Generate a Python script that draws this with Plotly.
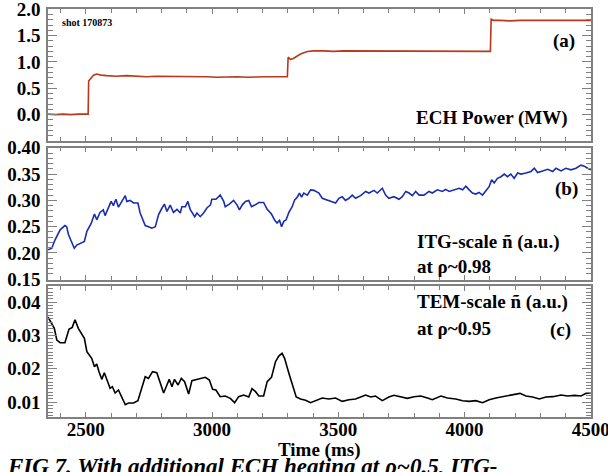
import plotly.graph_objects as go

# ---------------- data ----------------
ech_time = [2350, 2380, 2410, 2440, 2470, 2500, 2509, 2511, 2520, 2530,
            2543, 2560, 2583, 2620, 2660, 2700, 2740, 2780, 2820, 2860,
            2900, 2940, 2980, 3020, 3060, 3100, 3140, 3180, 3220, 3260,
            3298, 3301, 3310, 3320, 3337, 3350, 3377, 3403, 3440, 3480,
            3520, 3560, 3600, 3640, 3680, 3720, 3760, 3800, 3840, 3880,
            3920, 3960, 4000, 4040, 4080, 4102, 4105, 4115, 4140, 4180,
            4220, 4260, 4300, 4340, 4380, 4420, 4460, 4500]
ech_power = [0.01, 0.00, 0.01, 0.00, 0.01, 0.00, 0.01, 0.64, 0.70, 0.75,
             0.77, 0.75, 0.74, 0.73, 0.74, 0.73, 0.72, 0.73, 0.73, 0.72,
             0.73, 0.72, 0.72, 0.71, 0.72, 0.72, 0.71, 0.72, 0.72, 0.72,
             0.72, 1.09, 1.05, 1.06, 1.11, 1.15, 1.20, 1.21, 1.21, 1.20,
             1.21, 1.21, 1.20, 1.21, 1.21, 1.20, 1.20, 1.21, 1.20, 1.20,
             1.21, 1.20, 1.20, 1.21, 1.21, 1.20, 1.81, 1.79, 1.79, 1.78,
             1.79, 1.79, 1.79, 1.78, 1.79, 1.79, 1.79, 1.79]

itg_time = [2350, 2365, 2378, 2398, 2417, 2424, 2431, 2444, 2454, 2464,
            2484, 2494, 2504, 2521, 2534, 2543, 2556, 2569, 2576, 2589,
            2600, 2609, 2619, 2629, 2642, 2656, 2662, 2675, 2689, 2706,
            2715, 2728, 2735, 2748, 2761, 2775, 2788, 2801, 2811, 2821,
            2834, 2847, 2861, 2874, 2880, 2894, 2904, 2913, 2931, 2940,
            2953, 2966, 2980, 2993, 2999, 3015, 3032, 3046, 3052, 3068,
            3085, 3099, 3108, 3119, 3132, 3145, 3156, 3169, 3185, 3204,
            3218, 3235, 3248, 3257, 3267, 3275, 3284, 3293, 3304, 3317,
            3327, 3337, 3346, 3354, 3363, 3377, 3390, 3403, 3416, 3423,
            3436, 3456, 3469, 3489, 3502, 3515, 3528, 3542, 3555, 3568,
            3588, 3608, 3621, 3641, 3654, 3674, 3687, 3700, 3720, 3740,
            3753, 3767, 3780, 3793, 3806, 3820, 3839, 3859, 3872, 3892,
            3912, 3925, 3939, 3958, 3978, 3992, 4005, 4018, 4031, 4044,
            4057, 4071, 4084, 4097, 4107, 4117, 4130, 4144, 4157, 4170,
            4183, 4196, 4210, 4223, 4243, 4263, 4276, 4289, 4309, 4329,
            4349, 4362, 4382, 4401, 4421, 4441, 4461, 4474, 4487, 4500]
itg_level = [0.206, 0.209, 0.225, 0.244, 0.252, 0.250, 0.235, 0.222, 0.209, 0.215,
             0.219, 0.222, 0.241, 0.256, 0.274, 0.263, 0.277, 0.282, 0.271, 0.285,
             0.298, 0.290, 0.302, 0.287, 0.298, 0.309, 0.298, 0.300, 0.295, 0.295,
             0.276, 0.260, 0.252, 0.250, 0.247, 0.250, 0.273, 0.285, 0.293, 0.279,
             0.291, 0.277, 0.283, 0.276, 0.288, 0.288, 0.298, 0.283, 0.269, 0.276,
             0.269, 0.276, 0.286, 0.291, 0.302, 0.302, 0.310, 0.298, 0.288, 0.293,
             0.300, 0.291, 0.282, 0.291, 0.298, 0.300, 0.288, 0.291, 0.296, 0.296,
             0.283, 0.274, 0.262, 0.257, 0.262, 0.250, 0.260, 0.263, 0.277, 0.288,
             0.301, 0.306, 0.314, 0.306, 0.314, 0.310, 0.320, 0.319, 0.315, 0.314,
             0.304, 0.301, 0.298, 0.295, 0.304, 0.307, 0.300, 0.304, 0.310, 0.304,
             0.309, 0.317, 0.314, 0.319, 0.314, 0.323, 0.310, 0.304, 0.307, 0.302,
             0.307, 0.317, 0.314, 0.309, 0.317, 0.310, 0.310, 0.317, 0.314, 0.320,
             0.317, 0.321, 0.317, 0.320, 0.323, 0.320, 0.327, 0.320, 0.314, 0.312,
             0.315, 0.310, 0.317, 0.326, 0.339, 0.333, 0.342, 0.345, 0.350, 0.345,
             0.350, 0.342, 0.352, 0.350, 0.352, 0.355, 0.361, 0.353, 0.356, 0.359,
             0.355, 0.361, 0.356, 0.361, 0.358, 0.361, 0.367, 0.365, 0.361, 0.358]

tem_time = [2350, 2365, 2375, 2385, 2398, 2417, 2424, 2433, 2446, 2457,
            2470, 2484, 2494, 2504, 2517, 2523, 2534, 2543, 2552, 2563,
            2573, 2583, 2596, 2605, 2616, 2629, 2640, 2656, 2669, 2689,
            2706, 2722, 2735, 2748, 2764, 2781, 2794, 2808, 2821, 2830,
            2841, 2851, 2865, 2878, 2891, 2907, 2920, 2940, 2960, 2973,
            2989, 3002, 3015, 3032, 3052, 3072, 3089, 3105, 3125, 3145,
            3158, 3172, 3185, 3204, 3218, 3235, 3251, 3264, 3277, 3287,
            3304, 3319, 3333, 3350, 3370, 3390, 3409, 3436, 3462, 3489,
            3515, 3542, 3568, 3595, 3608, 3628, 3647, 3674, 3700, 3720,
            3747, 3773, 3800, 3826, 3853, 3872, 3906, 3932, 3965, 3992,
            4018, 4044, 4071, 4097, 4124, 4150, 4177, 4203, 4219, 4243,
            4269, 4296, 4322, 4349, 4382, 4408, 4435, 4461, 4481, 4500]
tem_level = [0.0355, 0.0337, 0.0321, 0.0286, 0.0278, 0.0278, 0.0296, 0.0318, 0.0324, 0.0347,
             0.0321, 0.0301, 0.0291, 0.0251, 0.0238, 0.0231, 0.0206, 0.0214, 0.0191, 0.0168,
             0.0188, 0.0166, 0.0141, 0.0146, 0.0127, 0.0136, 0.0118, 0.0092, 0.0097, 0.0097,
             0.0104, 0.0141, 0.0176, 0.0171, 0.0191, 0.0188, 0.0156, 0.0127, 0.0151, 0.0168,
             0.0146, 0.0168, 0.0151, 0.0171, 0.0161, 0.0124, 0.0164, 0.0168, 0.0171, 0.0174,
             0.0166, 0.0138, 0.0136, 0.0116, 0.0118, 0.0111, 0.0098, 0.0116, 0.0121, 0.0115,
             0.0140, 0.0131, 0.0118, 0.0118, 0.0161, 0.0174, 0.0221, 0.0238, 0.0246, 0.0231,
             0.0186, 0.0151, 0.0115, 0.0109, 0.0105, 0.0098, 0.0104, 0.0112, 0.0109, 0.0112,
             0.0102, 0.0107, 0.0109, 0.0116, 0.0121, 0.0115, 0.0118, 0.0104, 0.0115, 0.0120,
             0.0115, 0.0111, 0.0116, 0.0118, 0.0112, 0.0107, 0.0118, 0.0112, 0.0109, 0.0104,
             0.0102, 0.0104, 0.0098, 0.0107, 0.0112, 0.0116, 0.0121, 0.0124, 0.0126, 0.0118,
             0.0115, 0.0109, 0.0115, 0.0116, 0.0121, 0.0118, 0.0120, 0.0118, 0.0126, 0.0128]

x_ticks = [2500, 3000, 3500, 4000, 4500]
ech_ticks = [0.0, 0.5, 1.0, 1.5, 2.0]
itg_ticks = [0.15, 0.20, 0.25, 0.30, 0.35, 0.40]
tem_ticks = [0.01, 0.02, 0.03, 0.04]
caption = "FIG 7. With additional ECH heating at ρ~0.5, ITG-"

# ---------------- figure ----------------
FONT = "Liberation Serif"
AXC = "#808080"
tickfont = dict(family=FONT, size=19, color="black", weight="bold")

fig = go.Figure()
fig.add_trace(go.Scatter(x=ech_time, y=ech_power, mode="lines",
                         line=dict(color="#b8391b", width=1.6),
                         xaxis="x", yaxis="y", showlegend=False))
fig.add_trace(go.Scatter(x=itg_time, y=itg_level, mode="lines",
                         line=dict(color="#1a2db0", width=1.6),
                         xaxis="x2", yaxis="y2", showlegend=False))
fig.add_trace(go.Scatter(x=tem_time, y=tem_level, mode="lines",
                         line=dict(color="black", width=1.6),
                         xaxis="x3", yaxis="y3", showlegend=False))


def xax(anchor, labels):
    return dict(anchor=anchor, domain=[0, 1], range=[2350, 4500.5],
                tickmode="array", tickvals=x_ticks, showticklabels=labels,
                ticks="inside", ticklen=5, tickwidth=1, tickcolor=AXC,
                minor=dict(dtick=100, tick0=0, ticks="inside", ticklen=4,
                           tickwidth=1, tickcolor=AXC),
                showline=True, linecolor=AXC, linewidth=1.5, mirror="ticks",
                showgrid=False, zeroline=False, tickfont=tickfont,
                ticklabelstandoff=-6, ticklabeloverflow="allow",
                automargin=False)


def yax(anchor, domain, rng, vals, minor, fmt):
    return dict(anchor=anchor, domain=domain, range=rng,
                tickmode="array", tickvals=vals, tickformat=fmt,
                ticks="inside", ticklen=9, tickwidth=1,
                tickcolor=AXC,
                minor=dict(dtick=minor, tick0=0, ticks="inside", ticklen=5,
                           tickwidth=1, tickcolor=AXC),
                showline=True, linecolor=AXC, linewidth=1.5, mirror="ticks",
                showgrid=False, zeroline=False, tickfont=tickfont,
                ticklabelstandoff=2, ticklabeloverflow="allow",
                automargin=False)


fig.update_layout(
    width=608, height=472,
    margin=dict(l=48, r=17, t=9, b=55, autoexpand=False),
    paper_bgcolor="white", plot_bgcolor="white",
    font=dict(family=FONT),
    title=dict(text=caption, x=0.013, xref="container", xanchor="left",
               y=0.03, yref="container", yanchor="top",
               pad=dict(t=0, b=0, l=0, r=0),
               font=dict(family=FONT, size=23, color="black",
                         weight="bold", style="italic")),
    xaxis=xax("y", False),
    xaxis2=xax("y2", False),
    xaxis3=xax("y3", True),
    yaxis=yax("x", [0.6765, 1.0], [-0.5, 2.005], ech_ticks, 0.1, ".1f"),
    yaxis2=yax("x2", [0.337, 0.6605], [0.1495, 0.4005], itg_ticks, 0.01, ".2f"),
    yaxis3=yax("x3", [0.0, 0.321], [0.0055, 0.0448], tem_ticks, 0.001, ".2f"),
)

lab = dict(family=FONT, size=19, color="black", weight="bold")
ann = [
    dict(text="shot 170873", xref="x domain", yref="y domain", x=0.022, y=0.90,
         xanchor="left", yanchor="middle",
         font=dict(family=FONT, size=10, color="black", weight="bold")),
    dict(text="(a)", xref="x domain", yref="y domain", x=0.974, y=0.754,
         xanchor="right", yanchor="middle", font=lab),
    dict(text="ECH Power (MW)", xref="x domain", yref="y domain", x=0.961, y=0.174,
         xanchor="right", yanchor="middle", font=lab),
    dict(text="(b)", xref="x2 domain", yref="y2 domain", x=0.980, y=0.682,
         xanchor="right", yanchor="middle", font=lab),
    dict(text="ITG-scale ñ (a.u.)", xref="x2 domain", yref="y2 domain", x=0.676, y=0.284,
         xanchor="left", yanchor="middle", font=lab),
    dict(text="at ρ~0.98", xref="x2 domain", yref="y2 domain", x=0.676, y=0.102,
         xanchor="left", yanchor="middle", font=lab),
    dict(text="TEM-scale ñ (a.u.)", xref="x3 domain", yref="y3 domain", x=0.676, y=0.878,
         xanchor="left", yanchor="middle", font=lab),
    dict(text="at ρ~0.95", xref="x3 domain", yref="y3 domain", x=0.676, y=0.679,
         xanchor="left", yanchor="middle", font=lab),
    dict(text="(c)", xref="x3 domain", yref="y3 domain", x=0.967, y=0.664,
         xanchor="right", yanchor="middle", font=lab),
    dict(text="Time (ms)", xref="paper", yref="paper", x=0.5, y=-0.082,
         xanchor="center", yanchor="middle", font=lab),
]
for a in ann:
    a["showarrow"] = False
fig.update_layout(annotations=ann)

fig.write_html("out.html")
